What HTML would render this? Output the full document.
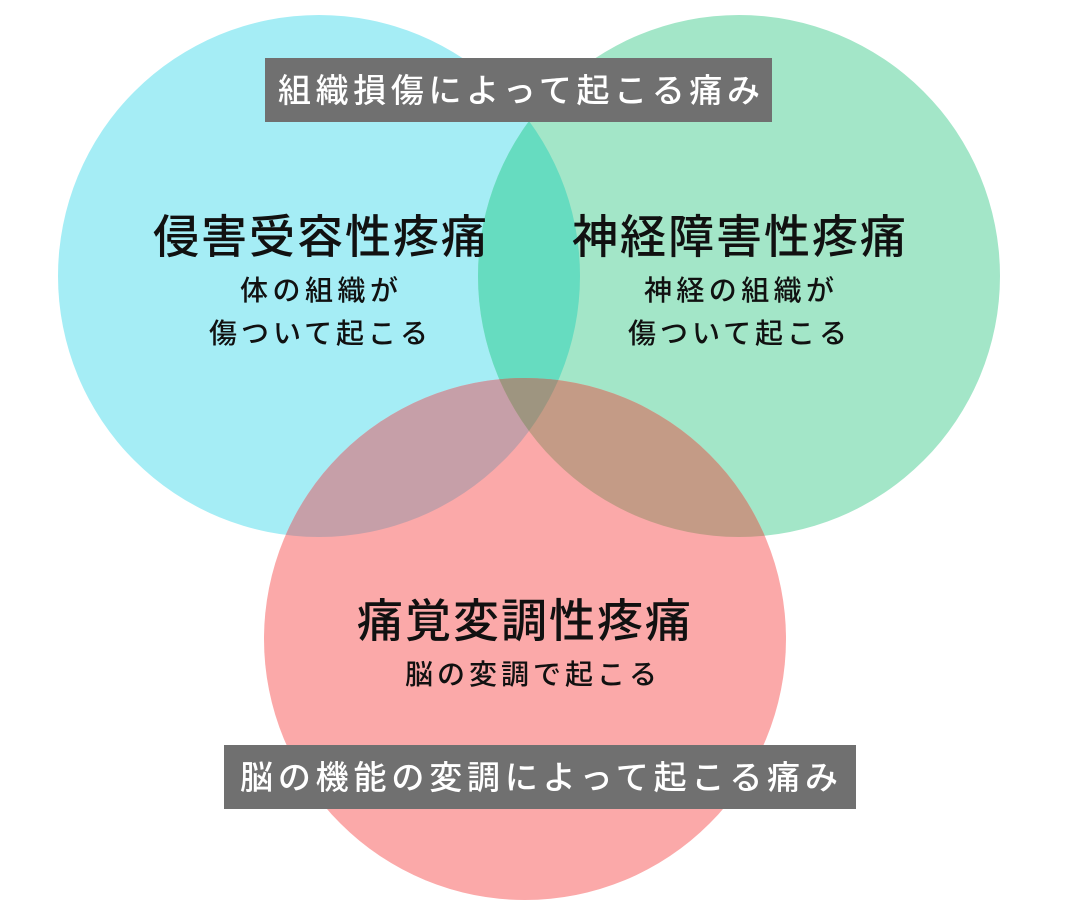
<!DOCTYPE html>
<html><head><meta charset="utf-8"><style>
html,body{margin:0;padding:0;background:#fff;width:1080px;height:900px;overflow:hidden}
svg text{font-family:"Liberation Sans","Noto Sans CJK JP",sans-serif}
</style></head><body>
<svg width="1080" height="900" viewBox="0 0 1080 900" xmlns="http://www.w3.org/2000/svg">
<defs>
<clipPath id="cb"><circle cx="319" cy="276" r="261"/></clipPath>
<clipPath id="cg"><circle cx="739" cy="276" r="261"/></clipPath>
</defs>
<circle cx="319" cy="276" r="261" fill="#a5edf5"/>
<circle cx="739" cy="276" r="261" fill="#a3e6c8"/>
<circle cx="525" cy="639" r="261" fill="#fba9a9"/>
<g clip-path="url(#cb)"><circle cx="739" cy="276" r="261" fill="#66dcc0"/><circle cx="525" cy="639" r="261" fill="#c69fa8"/></g>
<g clip-path="url(#cg)"><circle cx="525" cy="639" r="261" fill="#c49b86"/></g>
<g clip-path="url(#cb)"><g clip-path="url(#cg)"><circle cx="525" cy="639" r="261" fill="#9e9580"/></g></g>
<rect x="265" y="58" width="507" height="64" fill="#707070"/>
<text x="278" y="102" font-size="33" fill="#fff" font-weight="500" textLength="482" lengthAdjust="spacing">組織損傷によって起こる痛み</text>
<rect x="224" y="745" width="632" height="64" fill="#707070"/>
<text x="240" y="789" font-size="33" fill="#fff" font-weight="500" textLength="598" lengthAdjust="spacing">脳の機能の変調によって起こる痛み</text>
<g fill="#111" font-weight="500">
<text x="153" y="253" font-size="46" textLength="334" lengthAdjust="spacing">侵害受容性疼痛</text>
<text x="240" y="300" font-size="28" textLength="158" lengthAdjust="spacing">体の組織が</text>
<text x="209" y="343" font-size="28" textLength="219" lengthAdjust="spacing">傷ついて起こる</text>
<text x="572" y="253" font-size="46" textLength="334" lengthAdjust="spacing">神経障害性疼痛</text>
<text x="644" y="300" font-size="28" textLength="190" lengthAdjust="spacing">神経の組織が</text>
<text x="628" y="343" font-size="28" textLength="219" lengthAdjust="spacing">傷ついて起こる</text>
<text x="357" y="637" font-size="46" textLength="334" lengthAdjust="spacing">痛覚変調性疼痛</text>
<text x="405" y="684" font-size="28" textLength="252" lengthAdjust="spacing">脳の変調で起こる</text>
</g>
</svg>
</body></html>
